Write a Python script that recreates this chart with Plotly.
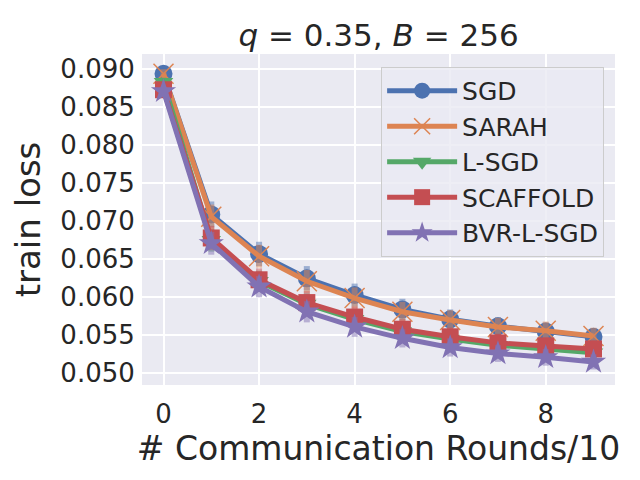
import plotly.graph_objects as go

rounds = [0, 1, 2, 3, 4, 5, 6, 7, 8, 9]

sgd = [0.0894, 0.0709, 0.0657, 0.0625, 0.0603, 0.0584, 0.0571, 0.0562, 0.0555, 0.0548]
sarah = [0.0894, 0.0706, 0.0654, 0.0621, 0.0599, 0.0581, 0.0570, 0.0561, 0.0556, 0.0549]
lsgd = [0.0883, 0.0675, 0.0621, 0.0591, 0.0571, 0.0555, 0.0545, 0.0537, 0.0532, 0.0527]
scaffold = [0.0873, 0.0678, 0.0623, 0.0593, 0.0574, 0.0558, 0.0548, 0.0540, 0.0536, 0.0532]
bvr = [0.0871, 0.0671, 0.0614, 0.0581, 0.0561, 0.0546, 0.0534, 0.0526, 0.0521, 0.0515]

err_sgd = [0.0006, 0.0017, 0.0016, 0.0016, 0.0015, 0.0014, 0.0013, 0.0012, 0.0012, 0.0011]
err_sarah = [0.0006, 0.0016, 0.0015, 0.0015, 0.0014, 0.0013, 0.0013, 0.0012, 0.0012, 0.0011]
err_lsgd = [0.0006, 0.0015, 0.0014, 0.0014, 0.0013, 0.0012, 0.0012, 0.0011, 0.0011, 0.0010]
err_scaffold = [0.0006, 0.0016, 0.0015, 0.0015, 0.0014, 0.0013, 0.0012, 0.0012, 0.0011, 0.0011]
err_bvr = [0.0006, 0.0015, 0.0014, 0.0014, 0.0013, 0.0012, 0.0012, 0.0011, 0.0011, 0.0010]

series = [
    ("SGD", sgd, err_sgd, (76, 114, 176), "circle", 18),
    ("SARAH", sarah, err_sarah, (221, 132, 82), "x-thin-open", 20),
    ("L-SGD", lsgd, err_lsgd, (85, 168, 104), "triangle-down", 17),
    ("SCAFFOLD", scaffold, err_scaffold, (196, 78, 82), "square", 17),
    ("BVR-L-SGD", bvr, err_bvr, (129, 114, 179), "star", 19),
]

fig = go.Figure()
for name, vals, errs, rgb, sym, size in series:
    col = "rgb(%d,%d,%d)" % rgb
    light = "rgba(%d,%d,%d,0.5)" % rgb
    fig.add_trace(go.Scatter(
        x=rounds, y=vals, name=name, mode="lines+markers",
        line=dict(color=col, width=5),
        marker=dict(symbol=sym, size=size, color=col,
                    line=dict(color=col, width=1.5 if sym == "x-thin-open" else 0)),
        error_y=dict(type="data", array=errs, color=light, thickness=6, width=0),
    ))

# the page body has an 8px margin, so the figure is drawn 8px right and down
font = "DejaVu Sans, sans-serif"
fig.update_layout(
    width=640, height=480,
    margin=dict(l=134, r=33, t=46, b=103),
    paper_bgcolor="white", plot_bgcolor="#EAEAF2",
    font=dict(family=font, color="#262626", size=26),
    title=dict(text="<i>q</i> = 0.35, <i>B</i> = 256", x=0.579, xanchor="center",
               y=0.944, yanchor="middle", font=dict(size=31)),
    showlegend=True,
    legend=dict(x=0.977, y=0.961, xanchor="right", yanchor="top",
                bgcolor="rgba(234,234,242,0.8)", bordercolor="#CCCCCC", borderwidth=1,
                font=dict(size=25), itemwidth=70),
    xaxis=dict(range=[-0.45, 9.45], tickvals=[0, 2, 4, 6, 8], showgrid=True,
               gridcolor="white", gridwidth=1.5, zeroline=False, showline=False,
               ticks="outside", ticklen=6, tickcolor="rgba(0,0,0,0)",
               tickfont=dict(size=26), automargin=False,
               title=dict(text="# Communication Rounds/10", font=dict(size=33), standoff=0)),
    yaxis=dict(range=[0.04846, 0.0920],
               tickvals=[0.050, 0.055, 0.060, 0.065, 0.070, 0.075, 0.080, 0.085, 0.090],
               tickformat=".3f", showgrid=True, gridcolor="white", gridwidth=1.5,
               zeroline=False, showline=False,
               ticks="outside", ticklen=1, tickcolor="rgba(0,0,0,0)",
               tickfont=dict(size=26), automargin=False,
               title=dict(text="train loss", font=dict(size=34), standoff=14)),
)

fig.write_html("out.html")
